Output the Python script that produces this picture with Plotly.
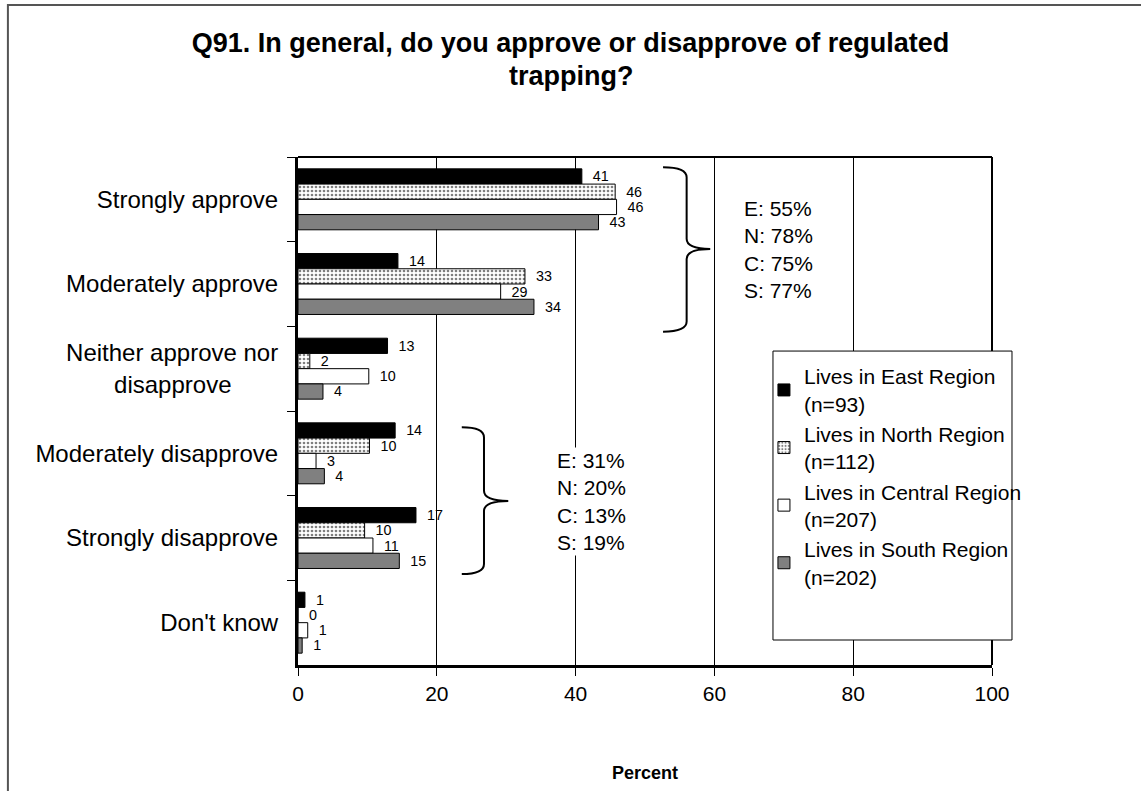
import plotly.graph_objects as go

NB = "\u00a0"
categories = ["Strongly approve", "Moderately approve", "Neither approve nor<br>disapprove" + NB * 7,
              "Moderately disapprove", "Strongly disapprove", "Don't know"]

series_names = ["Lives in East Region<br>(n=93)", "Lives in North Region<br>(n=112)",
                "Lives in Central Region<br>(n=207)", "Lives in South Region<br>(n=202)"]

east = [40.9, 14.4, 12.9, 14.0, 17.0, 1.0]
north = [45.7, 32.7, 1.7, 10.3, 9.6, 0.0]
central = [45.9, 29.2, 10.2, 2.6, 10.8, 1.4]
south = [43.3, 34.0, 3.6, 3.8, 14.6, 0.6]

east_lbl = [41, 14, 13, 14, 17, 1]
north_lbl = [46, 33, 2, 10, 10, 0]
central_lbl = [46, 29, 10, 3, 11, 1]
south_lbl = [43, 34, 4, 4, 15, 1]

title_line1 = "Q91. In general, do you approve or disapprove of regulated"
title_line2 = "trapping?"
x_title = "Percent"

approve_text = "E: 55%<br>N: 78%<br>C: 75%<br>S: 77%"
disapprove_text = "E: 31%<br>N: 20%<br>C: 13%<br>S: 19%"

x_ticks = [0, 20, 40, 60, 80, 100]

FONT = "Liberation Sans, Arial, sans-serif"

fig = go.Figure()

styles = [
    dict(color="black"),
    dict(color="white", pattern=dict(shape=".", fgcolor="black", bgcolor="white", size=4, solidity=0.35)),
    dict(color="white"),
    dict(color="#808080"),
]
all_vals = [east, north, central, south]
all_lbls = [east_lbl, north_lbl, central_lbl, south_lbl]

for i, (name, vals, lbls, st) in enumerate(zip(series_names, all_vals, all_lbls, styles)):
    fig.add_trace(go.Bar(
        name=name, y=categories, x=vals, orientation="h",
        text=["  " + str(v) for v in lbls], textposition="outside",
        textfont=dict(size=16, color="black", family=FONT),
        cliponaxis=False, legendgroup=f"g{i}",
        marker=dict(line=dict(color="black", width=1), **st),
    ))

def brace(xl, xm, xt, yt, ym, yb, r=0.02):
    return (f"M {xl},{yt} Q {xm},{yt} {xm},{yt - r} L {xm},{ym + r} "
            f"Q {xm},{ym} {xt},{ym} Q {xm},{ym} {xm},{ym - r} L {xm},{yb + r} "
            f"Q {xm},{yb} {xl},{yb}")

shapes = [
    # outer frame
    dict(type="rect", xref="paper", yref="paper", x0=-0.418, x1=1.23, y0=-0.27, y1=1.299,
         line=dict(color="#555555", width=2), layer="below"),
    # top and right border of plot area
    dict(type="line", xref="paper", yref="paper", x0=0, x1=1, y0=1, y1=1, line=dict(color="black", width=2)),
    dict(type="line", xref="paper", yref="paper", x0=1, x1=1, y0=0, y1=1, line=dict(color="black", width=2)),
    # legend box
    dict(type="rect", xref="paper", yref="paper", x0=0.6844, x1=1.0288, y0=0.0492, y1=0.618,
         line=dict(color="black", width=1), fillcolor="white", layer="above"),
    dict(type="path", xref="x", yref="paper", path=brace(52.6, 56.0, 59.4, 0.980, 0.819, 0.656),
         line=dict(color="black", width=2)),
    dict(type="path", xref="x", yref="paper", path=brace(23.6, 26.8, 30.3, 0.468, 0.323, 0.179),
         line=dict(color="black", width=2)),
]

annotations = [
    dict(text=f"<b>{title_line2}</b>", xref="paper", yref="paper", x=0.3927, y=1.1594,
         xanchor="center", yanchor="middle", showarrow=False,
         font=dict(size=27, color="black", family=FONT)),
    dict(text=f"<b>{x_title}</b>", xref="paper", yref="paper", x=0.5, y=-0.2126,
         xanchor="center", yanchor="middle", showarrow=False,
         font=dict(size=18, color="black", family=FONT)),
    dict(text=approve_text, xref="x", yref="paper", x=64.0, y=0.817, xanchor="left", yanchor="middle",
         align="left", showarrow=False, bgcolor="white", font=dict(size=21, color="black", family=FONT)),
    dict(text=disapprove_text, xref="x", yref="paper", x=37.0, y=0.321, xanchor="left", yanchor="middle",
         align="left", showarrow=False, bgcolor="white", font=dict(size=21, color="black", family=FONT)),
]

fig.update_layout(
    width=1141, height=791,
    margin=dict(l=298, r=149, t=157, b=126, autoexpand=False),
    paper_bgcolor="white", plot_bgcolor="white",
    font=dict(family=FONT, color="black"),
    barmode="group", bargap=0.28, bargroupgap=0,
    title=dict(text=f"<b>{title_line1}</b>",
               x=0.5, xref="container", xanchor="center", y=0.9457, yref="container", yanchor="middle",
               font=dict(size=27, color="black", family=FONT)),
    legend=dict(x=0.6714, y=0.608, xanchor="left", yanchor="top", borderwidth=0,
                bgcolor="rgba(0,0,0,0)", font=dict(size=21, color="black", family=FONT), itemwidth=30,
                traceorder="normal", tracegroupgap=0),
    shapes=shapes, annotations=annotations,
)

fig.update_xaxes(range=[0, 100], tickvals=x_ticks, ticks="outside", ticklen=8, tickcolor="black",
                 showgrid=True, gridcolor="black", gridwidth=1, zeroline=False,
                 showline=True, linecolor="black", linewidth=3, automargin=False,
                 tickfont=dict(size=21, color="black", family=FONT))
fig.update_yaxes(autorange="reversed", categoryorder="array", categoryarray=categories,
                 ticks="outside", tickson="boundaries", ticklen=8, tickcolor="black",
                 showline=True, linecolor="black", linewidth=3, showgrid=False, automargin=False,
                 tickfont=dict(size=24, color="black", family=FONT), ticklabelstandoff=12)

fig.write_html("out.html")
